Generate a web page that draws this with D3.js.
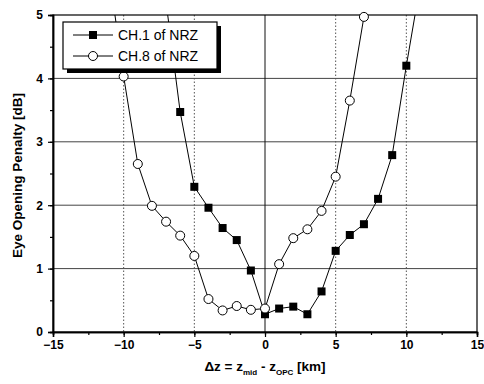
<!DOCTYPE html>
<html><head><meta charset="utf-8">
<script src="https://cdn.jsdelivr.net/npm/d3@7"></script>
<style>body{margin:0;background:#fff}svg{display:block}text{font-family:"Liberation Sans",Arial,sans-serif}</style>
</head><body><svg id="c" width="484" height="384"></svg>
<script>
const ch1X = [-7, -6, -5, -4, -3, -2, -1, 0, 1, 2, 3, 4, 5, 6, 7, 8, 9, 10, 11];
const ch1Y = [5.2, 3.47, 2.29, 1.96, 1.64, 1.45, 0.97, 0.28, 0.37, 0.40, 0.28, 0.64, 1.28, 1.53, 1.70, 2.10, 2.79, 4.20, 5.5];
const ch8X = [-11, -10, -9, -8, -7, -6, -5, -4, -3, -2, -1, 0, 1, 2, 3, 4, 5, 6, 7];
const ch8Y = [5.6, 4.03, 2.65, 1.99, 1.74, 1.52, 1.20, 0.52, 0.34, 0.41, 0.35, 0.37, 1.07, 1.48, 1.62, 1.91, 2.45, 3.65, 4.97];
const xTicks = [-15, -10, -5, 0, 5, 10, 15];
const yTicks = [0, 1, 2, 3, 4, 5];
const seriesNames = ["CH.1 of NRZ", "CH.8 of NRZ"];

const svg = d3.select("#c");
const L = 53, R = 477, T = 15, B = 332;
const x = d3.scaleLinear().domain([-15, 15]).range([L, R]);
const y = d3.scaleLinear().domain([0, 5]).range([B, T]);

svg.append("defs").append("clipPath").attr("id", "clip")
  .append("rect").attr("x", L).attr("y", T).attr("width", R - L).attr("height", B - T);

// grid
svg.append("g").selectAll("line").data(yTicks.filter(d => d > 0 && d < 5)).join("line")
  .attr("x1", L).attr("x2", R).attr("y1", d => y(d)).attr("y2", d => y(d))
  .attr("stroke", "#444").attr("stroke-width", 1);
svg.append("g").selectAll("line").data(xTicks.filter(d => d > -15 && d < 15)).join("line")
  .attr("y1", T).attr("y2", B).attr("x1", d => x(d)).attr("x2", d => x(d))
  .attr("stroke", d => d === 0 ? "#111" : "#555").attr("stroke-width", 1)
  .attr("stroke-dasharray", d => d === 0 ? null : "1.5,2");

// frame
svg.append("rect").attr("x", L).attr("y", T).attr("width", R - L).attr("height", B - T)
  .attr("fill", "none").attr("stroke", "#000").attr("stroke-width", 1.2);

// axes with outward ticks
const xMinor = d3.range(-15, 15.01, 2.5);
const yMinor = d3.range(0, 5.01, 0.5);
const ax = svg.append("g").attr("transform", `translate(0,${B})`)
  .call(d3.axisBottom(x).tickValues(xMinor).tickSize(3).tickFormat(""));
const ax2 = svg.append("g").attr("transform", `translate(0,${B})`)
  .call(d3.axisBottom(x).tickValues(xTicks).tickSize(5).tickPadding(3).tickFormat(d3.format("d")));
const ay = svg.append("g").attr("transform", `translate(${L},0)`)
  .call(d3.axisLeft(y).tickValues(yMinor).tickSize(3).tickFormat(""));
const ay2 = svg.append("g").attr("transform", `translate(${L},0)`)
  .call(d3.axisLeft(y).tickValues(yTicks).tickSize(5).tickPadding(5).tickFormat(d3.format("d")));
[ax, ax2, ay, ay2].forEach(g => {
  g.select(".domain").attr("stroke", "#000").attr("stroke-width", 1.5);
  g.selectAll(".tick line").attr("stroke", "#000").attr("stroke-width", 1.2);
  g.selectAll("text").attr("fill", "#000").style("font-size", "12px").style("font-weight", "bold")
    .style("font-family", '"Liberation Sans",Arial,sans-serif');
});

// axis titles
svg.append("text").attr("transform", `translate(22,${(T + B) / 2 + 2}) rotate(-90)`)
  .attr("text-anchor", "middle").style("font-size", "13.5px").style("font-weight", "bold")
  .text("Eye Opening Penalty [dB]");
const xt = svg.append("text").attr("x", 265).attr("y", 371).attr("text-anchor", "middle")
  .style("font-size", "13.5px").style("font-weight", "bold");
xt.append("tspan").text("\u0394z = z");
xt.append("tspan").attr("dy", 4).style("font-size", "8px").text("mid");
xt.append("tspan").attr("dy", -4).text(" - z");
xt.append("tspan").attr("dy", 4).style("font-size", "8px").text("OPC");
xt.append("tspan").attr("dy", -4).text(" [km]");

// series
const plot = svg.append("g").attr("clip-path", "url(#clip)");
const line = d3.line().x(d => x(d[0])).y(d => y(d[1]));
const s1 = ch1X.map((v, i) => [v, ch1Y[i]]);
const s8 = ch8X.map((v, i) => [v, ch8Y[i]]);
plot.append("path").datum(s1).attr("d", line).attr("fill", "none").attr("stroke", "#000").attr("stroke-width", 1);
plot.append("path").datum(s8).attr("d", line).attr("fill", "none").attr("stroke", "#000").attr("stroke-width", 1);
plot.append("g").selectAll("rect").data(s1).join("rect")
  .attr("x", d => x(d[0]) - 4).attr("y", d => y(d[1]) - 4).attr("width", 8).attr("height", 8).attr("fill", "#000");
svg.append("g").selectAll("circle").data(s8.filter(d => d[1] <= 5)).join("circle")
  .attr("cx", d => x(d[0])).attr("cy", d => y(d[1])).attr("r", 4.5)
  .attr("fill", "#fff").attr("stroke", "#000").attr("stroke-width", 1);

// legend
const lg = svg.append("g");
lg.append("rect").attr("x", 67).attr("y", 26).attr("width", 154).attr("height", 47).attr("fill", "#000");
lg.append("rect").attr("x", 63).attr("y", 22).attr("width", 154).attr("height", 47)
  .attr("fill", "#fff").attr("stroke", "#000").attr("stroke-width", 1.2);
seriesNames.forEach((name, i) => {
  const yy = 35 + i * 21;
  lg.append("line").attr("x1", 73).attr("x2", 113).attr("y1", yy).attr("y2", yy).attr("stroke", "#000");
  if (i === 0) lg.append("rect").attr("x", 89).attr("y", yy - 4).attr("width", 8).attr("height", 8).attr("fill", "#000");
  else lg.append("circle").attr("cx", 93).attr("cy", yy).attr("r", 4.5).attr("fill", "#fff").attr("stroke", "#000");
  lg.append("text").attr("x", 118).attr("y", yy + 5).style("font-size", "14px").text(name);
});
</script></body></html>
